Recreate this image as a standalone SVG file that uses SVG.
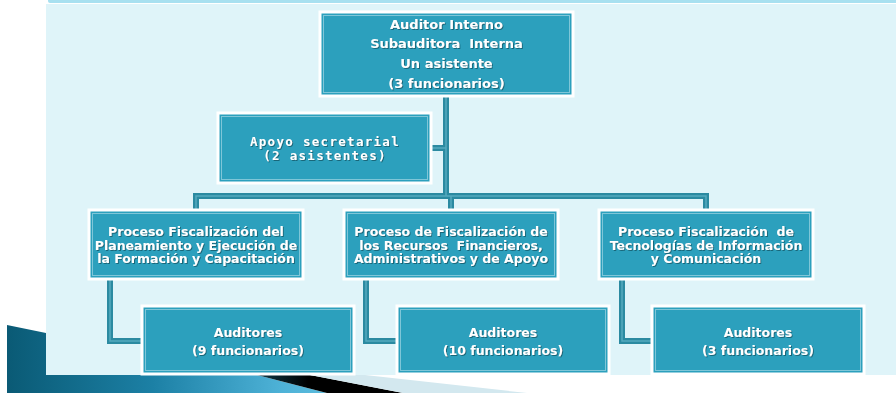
<svg xmlns="http://www.w3.org/2000/svg" width="896" height="393" viewBox="0 0 896 393">
<defs>
<linearGradient id="swoosh" x1="7" y1="0" x2="330" y2="0" gradientUnits="userSpaceOnUse">
<stop offset="0" stop-color="#0A5A75"/>
<stop offset="0.45" stop-color="#1C80A5"/>
<stop offset="0.85" stop-color="#4EB2D7"/>
<stop offset="1" stop-color="#5CBCDD"/>
</linearGradient>
<linearGradient id="blk" x1="257" y1="0" x2="403" y2="0" gradientUnits="userSpaceOnUse">
<stop offset="0" stop-color="#0E3A48"/>
<stop offset="0.35" stop-color="#000000"/>
<stop offset="1" stop-color="#000000"/>
</linearGradient>
<filter id="sh" x="-10%" y="-30%" width="120%" height="160%">
<feDropShadow dx="1" dy="1" stdDeviation="0.4" flood-color="#15505E" flood-opacity="0.7"/>
</filter>
</defs>
<style>
.box{fill:#2CA0BD;stroke:#FFFFFF;stroke-width:3}
.inner{fill:none;stroke:#7FC6D8;stroke-width:1}
.t{font-family:"DejaVu Sans","Liberation Sans",sans-serif;font-weight:bold;fill:#FFFFFF;text-anchor:middle;white-space:pre;filter:url(#sh)}
.t13{font-size:13px}
.t12{font-size:12.5px}
.mono{font-family:"DejaVu Sans Mono","Liberation Mono",monospace;font-weight:bold;font-size:12.5px;letter-spacing:1.3px;fill:#FFFFFF;text-anchor:middle;white-space:pre;filter:url(#sh)}
.con{fill:none;stroke:#2B8AA1;stroke-width:6}
.coni{fill:none;stroke:#56AABF;stroke-width:1.5}
</style>
<!-- background -->
<polygon points="7,325 46,333 257,375 327,393 7,393" fill="url(#swoosh)"/>
<polygon points="257,375 310,375 403,393 327,393" fill="url(#blk)"/>
<polygon points="310,375 365,375 527,393 403,393" fill="#D3E8EF"/>
<rect x="46" y="4" width="850" height="371" fill="#DFF4F9"/>
<rect x="48" y="-2" width="860" height="5" rx="2" fill="#A8E0F0"/>

<g id="connectors">
<path class="con" d="M446,96 V196 M431,148 H446 M196,210 V196 H706 V210 M451,196 V210 M110,279 V341 H142 M366,279 V341 H397 M622,279 V341 H652"/>
<path class="coni" d="M446,96 V196 M431,148 H446 M196,210 V196 H706 V210 M451,196 V210 M110,279 V341 H142 M366,279 V341 H397 M622,279 V341 H652"/>
</g>

<g id="auditor-interno">
<rect class="box" x="320" y="12" width="253" height="84"/>
<rect class="inner" x="323.5" y="15.5" width="246" height="77"/>
<text class="t t13" x="446.5" y="28.5">Auditor Interno</text>
<text class="t t13" x="446.5" y="48">Subauditora  Interna</text>
<text class="t t13" x="446.5" y="67.5">Un asistente</text>
<text class="t t13" x="446.5" y="87.5">(3 funcionarios)</text>
</g>

<g id="apoyo-secretarial">
<rect class="box" x="218" y="113" width="213" height="70"/>
<rect class="inner" x="221.5" y="116.5" width="206" height="63"/>
<text class="mono" x="325" y="145.5">Apoyo secretarial</text>
<text class="mono" x="325" y="159.5">(2 asistentes)</text>
</g>

<g id="proceso-formacion">
<rect class="box" x="89" y="210" width="214" height="69"/>
<rect class="inner" x="92.5" y="213.5" width="207" height="62"/>
<text class="t t12" x="196" y="236">Proceso Fiscalización del</text>
<text class="t t12" x="196" y="249.5">Planeamiento y Ejecución de</text>
<text class="t t12" x="196" y="263">la Formación y Capacitación</text>
</g>

<g id="proceso-recursos">
<rect class="box" x="344" y="210" width="214" height="69"/>
<rect class="inner" x="347.5" y="213.5" width="207" height="62"/>
<text class="t t12" x="451" y="236">Proceso de Fiscalización de</text>
<text class="t t12" x="451" y="249.5">los Recursos  Financieros,</text>
<text class="t t12" x="451" y="263">Administrativos y de Apoyo</text>
</g>

<g id="proceso-tic">
<rect class="box" x="599" y="210" width="214" height="69"/>
<rect class="inner" x="602.5" y="213.5" width="207" height="62"/>
<text class="t t12" x="706" y="236">Proceso Fiscalización  de</text>
<text class="t t12" x="706" y="249.5">Tecnologías de Información</text>
<text class="t t12" x="706" y="263">y Comunicación</text>
</g>

<g id="auditores-9">
<rect class="box" x="142" y="306" width="212" height="68"/>
<rect class="inner" x="145.5" y="309.5" width="205" height="61"/>
<text class="t t12" x="248" y="336.5">Auditores</text>
<text class="t t12" x="248" y="354.5">(9 funcionarios)</text>
</g>

<g id="auditores-10">
<rect class="box" x="397" y="306" width="212" height="68"/>
<rect class="inner" x="400.5" y="309.5" width="205" height="61"/>
<text class="t t12" x="503" y="336.5">Auditores</text>
<text class="t t12" x="503" y="354.5">(10 funcionarios)</text>
</g>

<g id="auditores-3">
<rect class="box" x="652" y="306" width="212" height="68"/>
<rect class="inner" x="655.5" y="309.5" width="205" height="61"/>
<text class="t t12" x="758" y="336.5">Auditores</text>
<text class="t t12" x="758" y="354.5">(3 funcionarios)</text>
</g>
</svg>
